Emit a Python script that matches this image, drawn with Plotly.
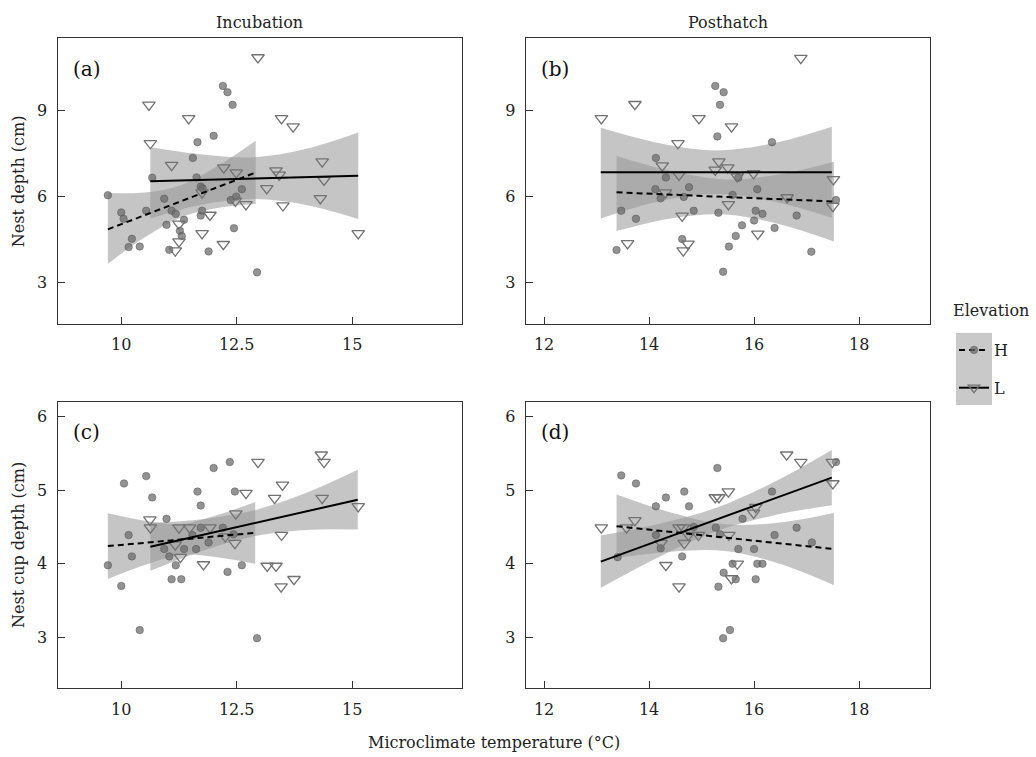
import plotly.graph_objects as go

# ---------------- Incubation: nest depth (a) ----------------
a_H_x = [9.71, 10.0, 10.05, 10.23, 10.16, 10.40, 10.54, 10.67, 10.93, 10.98, 11.04, 11.09, 11.18,
         11.36, 11.27, 11.31, 11.55, 11.65, 11.63, 11.72, 11.76, 11.72, 11.75, 11.89, 12.0, 12.20,
         12.30, 12.41, 12.37, 12.49, 12.61, 12.44, 12.94]
a_H_y = [6.05, 5.45, 5.23, 4.53, 4.24, 4.26, 5.51, 6.66, 5.93, 5.02, 4.15, 5.51, 5.40,
         5.19, 4.81, 4.63, 7.35, 7.90, 6.67, 6.35, 6.29, 5.34, 5.51, 4.09, 8.12, 9.86,
         9.64, 9.20, 5.88, 6.0, 6.26, 4.90, 3.36]
a_L_x = [12.96, 10.60, 11.46, 10.63, 13.47, 13.72, 11.09, 12.22, 12.49, 13.35, 13.42, 14.35, 14.39,
         13.15, 12.70, 12.47, 13.50, 14.31, 11.92, 11.25, 11.75, 11.25, 12.21, 11.17, 15.13, 11.75]
a_L_y = [10.85, 9.20, 8.73, 7.86, 8.73, 8.44, 7.10, 7.01, 6.84, 6.91, 6.76, 7.22, 6.58,
         6.29, 5.73, 5.85, 5.69, 5.94, 5.36, 5.05, 4.72, 4.43, 4.34, 4.12, 4.72, 6.14]
a_H_band_x = [9.71, 10.51, 11.31, 12.11, 12.91]
a_H_band_lo = [3.66, 4.58, 5.29, 5.61, 5.74]
a_H_band_hi = [6.13, 6.14, 6.41, 7.09, 7.95]
a_H_fit_x = [9.71, 12.91]
a_H_fit_y = [4.86, 6.84]
a_L_band_x = [10.63, 11.755, 12.88, 14.005, 15.13]
a_L_band_lo = [5.24, 5.73, 5.915, 5.71, 5.22]
a_L_band_hi = [7.72, 7.47, 7.375, 7.67, 8.24]
a_L_fit_x = [10.63, 15.13]
a_L_fit_y = [6.54, 6.73]

# ---------------- Posthatch: nest depth (b) ----------------
b_H_x = [13.38, 13.47, 13.75, 14.13, 14.12, 14.22, 14.32, 14.66, 14.76, 14.63, 14.85, 15.26, 15.42,
         15.35, 15.30, 15.32, 15.59, 15.41, 15.52, 15.65, 15.70, 15.77, 16.0, 16.03, 16.06, 16.16,
         16.34, 16.39, 16.81, 17.09, 17.56]
b_H_y = [4.14, 5.51, 5.23, 7.35, 6.26, 5.94, 6.67, 5.99, 6.33, 4.52, 5.51, 9.86, 9.64,
         9.20, 8.10, 5.44, 6.06, 3.38, 4.26, 4.63, 6.66, 5.0, 5.17, 5.51, 6.26, 5.40,
         7.90, 4.91, 5.34, 4.08, 5.88]
b_L_x = [13.09, 13.73, 13.59, 14.95, 14.55, 15.57, 14.25, 14.57, 14.31, 14.63, 14.65, 14.74,
         15.33, 15.26, 15.50, 15.68, 15.51, 15.99, 16.07, 16.63, 16.89, 17.51, 17.50]
b_L_y = [8.73, 9.22, 4.37, 8.73, 7.86, 8.44, 7.08, 6.76, 6.14, 5.33, 4.12, 4.35,
         7.22, 6.93, 7.01, 6.70, 5.73, 6.81, 4.70, 5.97, 10.83, 6.60, 5.67]
b_H_band_x = [13.38, 14.415, 15.45, 16.485, 17.52]
b_H_band_lo = [4.80, 5.24, 5.38, 5.04, 4.44]
b_H_band_hi = [7.42, 6.90, 6.60, 6.78, 7.22]
b_H_fit_x = [13.38, 17.52]
b_H_fit_y = [6.15, 5.83]
b_L_band_x = [13.08, 14.18, 15.28, 16.38, 17.48]
b_L_band_lo = [5.24, 5.83, 6.09, 5.83, 5.26]
b_L_band_hi = [8.40, 7.87, 7.61, 7.87, 8.44]
b_L_fit_x = [13.08, 17.48]
b_L_fit_y = [6.85, 6.85]

# ---------------- Incubation: nest cup depth (c) ----------------
c_H_x = [9.71, 10.0, 10.06, 10.16, 10.23, 10.40, 10.54, 10.67, 10.93, 10.98, 11.04, 11.09, 11.18,
         11.30, 11.36, 11.54, 11.62, 11.65, 11.72, 11.72, 11.89, 12.0, 12.20, 12.30, 12.35, 12.43,
         12.46, 12.61, 12.94]
c_H_y = [3.98, 3.70, 5.09, 4.39, 4.10, 3.10, 5.19, 4.90, 4.20, 4.61, 4.10, 3.79, 3.98,
         3.79, 4.20, 4.39, 4.20, 4.98, 4.79, 4.49, 4.29, 5.30, 4.49, 3.89, 5.38, 4.40,
         4.98, 3.98, 2.99]
c_L_x = [10.62, 10.63, 11.25, 11.48, 11.92, 11.17, 11.28, 11.78, 12.25, 12.46, 12.48, 12.70,
         12.96, 13.32, 13.49, 13.47, 13.16, 13.35, 13.46, 13.74, 14.33, 14.39, 14.35, 15.13]
c_L_y = [4.60, 4.49, 4.49, 4.49, 4.49, 4.26, 4.09, 3.99, 4.37, 4.28, 4.68, 4.96,
         5.38, 4.89, 5.07, 4.39, 3.97, 3.97, 3.69, 3.79, 5.48, 5.38, 4.89, 4.78]
c_H_band_x = [9.71, 10.5075, 11.305, 12.1025, 12.90]
c_H_band_lo = [3.795, 3.985, 4.12, 4.085, 4.00]
c_H_band_hi = [4.685, 4.585, 4.54, 4.665, 4.84]
c_H_fit_x = [9.71, 12.90]
c_H_fit_y = [4.24, 4.42]
c_L_band_x = [10.63, 11.7525, 12.875, 13.9975, 15.12]
c_L_band_lo = [3.905, 4.175, 4.375, 4.46, 4.465]
c_L_band_hi = [4.555, 4.605, 4.725, 4.96, 5.275]
c_L_fit_x = [10.63, 15.12]
c_L_fit_y = [4.23, 4.87]

# ---------------- Posthatch: nest cup depth (d) ----------------
d_H_x = [13.47, 13.75, 13.40, 14.13, 14.22, 14.32, 14.13, 14.67, 14.76, 14.63, 14.85, 15.30, 15.27,
         15.35, 15.32, 15.42, 15.41, 15.54, 15.59, 15.65, 15.70, 15.78, 16.0, 16.03, 16.06, 16.16,
         16.34, 16.39, 16.81, 17.10, 17.56]
d_H_y = [5.20, 5.09, 4.09, 4.39, 4.21, 4.90, 4.78, 4.98, 4.78, 4.10, 4.50, 5.30, 4.49,
         4.40, 3.69, 3.88, 2.99, 3.10, 4.0, 3.79, 4.20, 4.61, 4.20, 3.79, 4.0, 4.0,
         4.98, 4.39, 4.49, 4.29, 5.38]
d_L_x = [13.09, 13.57, 13.73, 14.23, 14.32, 14.57, 14.57, 14.65, 14.67, 14.75, 14.94, 15.26,
         15.33, 15.51, 15.52, 15.57, 15.68, 15.99, 16.03, 16.62, 16.89, 17.49, 17.50]
d_L_y = [4.49, 4.49, 4.59, 4.28, 3.98, 4.49, 3.69, 4.49, 4.28, 4.39, 4.39, 4.90,
         4.90, 4.98, 4.39, 3.80, 4.0, 4.69, 4.77, 5.48, 5.38, 5.38, 5.09]
d_H_band_x = [13.38, 14.415, 15.45, 16.485, 17.52]
d_H_band_lo = [4.08, 4.165, 4.175, 4.0, 3.71]
d_H_band_hi = [4.94, 4.695, 4.535, 4.56, 4.69]
d_H_fit_x = [13.38, 17.52]
d_H_fit_y = [4.51, 4.20]
d_L_band_x = [13.08, 14.18, 15.28, 16.38, 17.48]
d_L_band_lo = [3.675, 4.09, 4.44, 4.66, 4.795]
d_L_band_hi = [4.385, 4.54, 4.76, 5.11, 5.545]
d_L_fit_x = [13.08, 17.48]
d_L_fit_y = [4.03, 5.17]

# ---------------- axes / labels ----------------
inc_ticks = [10, 12.5, 15]
post_ticks = [12, 14, 16, 18]
depth_ticks = [3, 6, 9]
cup_ticks = [3, 4, 5, 6]
inc_range = [8.62, 17.37]
post_range = [11.65, 19.35]
depth_range = [1.56, 11.52]
cup_range = [2.31, 6.20]
panel_tags = ["(a)", "(b)", "(c)", "(d)"]
column_titles = ["Incubation", "Posthatch"]
row_titles = ["Nest depth (cm)", "Nest cup depth (cm)"]
x_title = "Microclimate temperature (°C)"
legend_title = "Elevation"
groups = ["H", "L"]

FONT = "DejaVu Serif"
W, H = 1036, 757
BAND = "rgba(150,150,150,0.55)"
H_MARK = dict(symbol="circle", size=7.5, color="rgba(105,105,105,0.72)",
              line=dict(width=0.6, color="rgba(80,80,80,0.8)"))
L_MARK = dict(symbol="triangle-down-open", size=11, color="#727272", line=dict(width=1.3))
H_LINE = dict(color="black", width=2, dash="6px,4px")
L_LINE = dict(color="black", width=2)

panels = [
    dict(ax="", H=(a_H_x, a_H_y, a_H_band_x, a_H_band_lo, a_H_band_hi, a_H_fit_x, a_H_fit_y),
         L=(a_L_x, a_L_y, a_L_band_x, a_L_band_lo, a_L_band_hi, a_L_fit_x, a_L_fit_y)),
    dict(ax="2", H=(b_H_x, b_H_y, b_H_band_x, b_H_band_lo, b_H_band_hi, b_H_fit_x, b_H_fit_y),
         L=(b_L_x, b_L_y, b_L_band_x, b_L_band_lo, b_L_band_hi, b_L_fit_x, b_L_fit_y)),
    dict(ax="3", H=(c_H_x, c_H_y, c_H_band_x, c_H_band_lo, c_H_band_hi, c_H_fit_x, c_H_fit_y),
         L=(c_L_x, c_L_y, c_L_band_x, c_L_band_lo, c_L_band_hi, c_L_fit_x, c_L_fit_y)),
    dict(ax="4", H=(d_H_x, d_H_y, d_H_band_x, d_H_band_lo, d_H_band_hi, d_H_fit_x, d_H_fit_y),
         L=(d_L_x, d_L_y, d_L_band_x, d_L_band_lo, d_L_band_hi, d_L_fit_x, d_L_fit_y)),
]

fig = go.Figure()

for p in panels:
    xa, ya = "x" + p["ax"], "y" + p["ax"]
    # confidence bands
    for g in groups:
        px, py, bx, blo, bhi, fx, fy = p[g]
        fig.add_trace(go.Scatter(x=bx, y=blo, mode="lines", line=dict(width=0, shape="spline"),
                                 hoverinfo="skip", showlegend=False, xaxis=xa, yaxis=ya))
        fig.add_trace(go.Scatter(x=bx, y=bhi, mode="lines", line=dict(width=0, shape="spline"),
                                 fill="tonexty", fillcolor=BAND, hoverinfo="skip",
                                 showlegend=False, xaxis=xa, yaxis=ya))
    # observations
    for g in groups:
        px, py = p[g][0], p[g][1]
        fig.add_trace(go.Scatter(x=px, y=py, mode="markers",
                                 marker=H_MARK if g == "H" else L_MARK,
                                 showlegend=False, xaxis=xa, yaxis=ya))
    # fitted lines
    for g in groups:
        fx, fy = p[g][5], p[g][6]
        fig.add_trace(go.Scatter(x=fx, y=fy, mode="lines",
                                 line=H_LINE if g == "H" else L_LINE,
                                 showlegend=False, xaxis=xa, yaxis=ya))

# legend entries
for g in groups:
    fig.add_trace(go.Scatter(x=[None], y=[None], mode="lines+markers", name=g,
                             legendgroup=g,
                             line=H_LINE if g == "H" else L_LINE,
                             marker=H_MARK if g == "H" else dict(L_MARK, size=10),
                             xaxis="x", yaxis="y"))

xdom_left = [57.5 / W, 461.7 / W]
xdom_right = [525.7 / W, 930.0 / W]
ydom_top = [1 - 324.0 / H, 1 - 38.3 / H]
ydom_bot = [1 - 688.3 / H, 1 - 401.7 / H]

axis_common = dict(showline=True, mirror=True, linecolor="#333333", linewidth=1.3,
                   ticks="inside", ticklen=7, tickwidth=1.2, tickcolor="#333333",
                   showgrid=False, zeroline=False,
                   tickfont=dict(family=FONT, size=16, color="#222222"))

layout_axes = {
    "xaxis": dict(axis_common, domain=xdom_left, range=inc_range, tickvals=inc_ticks,
                  ticktext=[str(t) for t in inc_ticks], anchor="y", ticklabelstandoff=6),
    "yaxis": dict(axis_common, domain=ydom_top, range=depth_range, tickvals=depth_ticks,
                  anchor="x", ticklabelstandoff=6),
    "xaxis2": dict(axis_common, domain=xdom_right, range=post_range, tickvals=post_ticks,
                   anchor="y2", ticklabelstandoff=6),
    "yaxis2": dict(axis_common, domain=ydom_top, range=depth_range, tickvals=depth_ticks,
                   anchor="x2", ticklabelstandoff=6),
    "xaxis3": dict(axis_common, domain=xdom_left, range=inc_range, tickvals=inc_ticks,
                   ticktext=[str(t) for t in inc_ticks], anchor="y3", ticklabelstandoff=6),
    "yaxis3": dict(axis_common, domain=ydom_bot, range=cup_range, tickvals=cup_ticks,
                   anchor="x3", ticklabelstandoff=6),
    "xaxis4": dict(axis_common, domain=xdom_right, range=post_range, tickvals=post_ticks,
                   anchor="y4", ticklabelstandoff=6),
    "yaxis4": dict(axis_common, domain=ydom_bot, range=cup_range, tickvals=cup_ticks,
                   anchor="x4", ticklabelstandoff=6),
}

annotations = []
tag_axes = ["", "2", "3", "4"]
for tag, ax in zip(panel_tags, tag_axes):
    annotations.append(dict(text=tag, xref=f"x{ax} domain", yref=f"y{ax} domain",
                            x=0.033, y=0.893, xanchor="left", yanchor="middle",
                            showarrow=False, font=dict(family=FONT, size=20, color="#111111")))
for title, dom in zip(column_titles, [xdom_left, xdom_right]):
    annotations.append(dict(text=title, xref="paper", yref="paper", x=(dom[0] + dom[1]) / 2,
                            y=1 - 22 / H, xanchor="center", yanchor="middle", showarrow=False,
                            font=dict(family=FONT, size=16, color="#222222")))
for title, dom in zip(row_titles, [ydom_top, ydom_bot]):
    annotations.append(dict(text=title, xref="paper", yref="paper", x=18 / W,
                            y=(dom[0] + dom[1]) / 2, xanchor="center", yanchor="middle",
                            textangle=-90, showarrow=False,
                            font=dict(family=FONT, size=16, color="#222222")))
annotations.append(dict(text=x_title, xref="paper", yref="paper",
                        x=(xdom_left[0] + xdom_right[1]) / 2, y=1 - 742 / H,
                        xanchor="center", yanchor="middle", showarrow=False,
                        font=dict(family=FONT, size=16, color="#222222")))
# legend heading
annotations.append(dict(text=legend_title, xref="paper", yref="paper",
                        x=991 / W, y=1 - 310 / H, xanchor="center", yanchor="middle",
                        showarrow=False, font=dict(family=FONT, size=16, color="#222222")))

fig.update_layout(
    width=W, height=H, margin=dict(l=0, r=0, t=0, b=0),
    paper_bgcolor="white", plot_bgcolor="white",
    font=dict(family=FONT, size=16, color="#222222"),
    showlegend=True,
    legend=dict(x=954 / W, y=1 - 333 / H, xanchor="left", yanchor="top",
                bgcolor="rgba(0,0,0,0)", itemwidth=30, tracegroupgap=14,
                font=dict(family=FONT, size=16)),
    shapes=[dict(type="rect", xref="paper", yref="paper",
                 x0=956 / W, x1=992 / W, y0=1 - 405 / H, y1=1 - 333 / H,
                 fillcolor="#c9c9c9", line=dict(width=0), layer="below")],
    annotations=annotations,
    **layout_axes,
)

fig.write_html("out.html")
